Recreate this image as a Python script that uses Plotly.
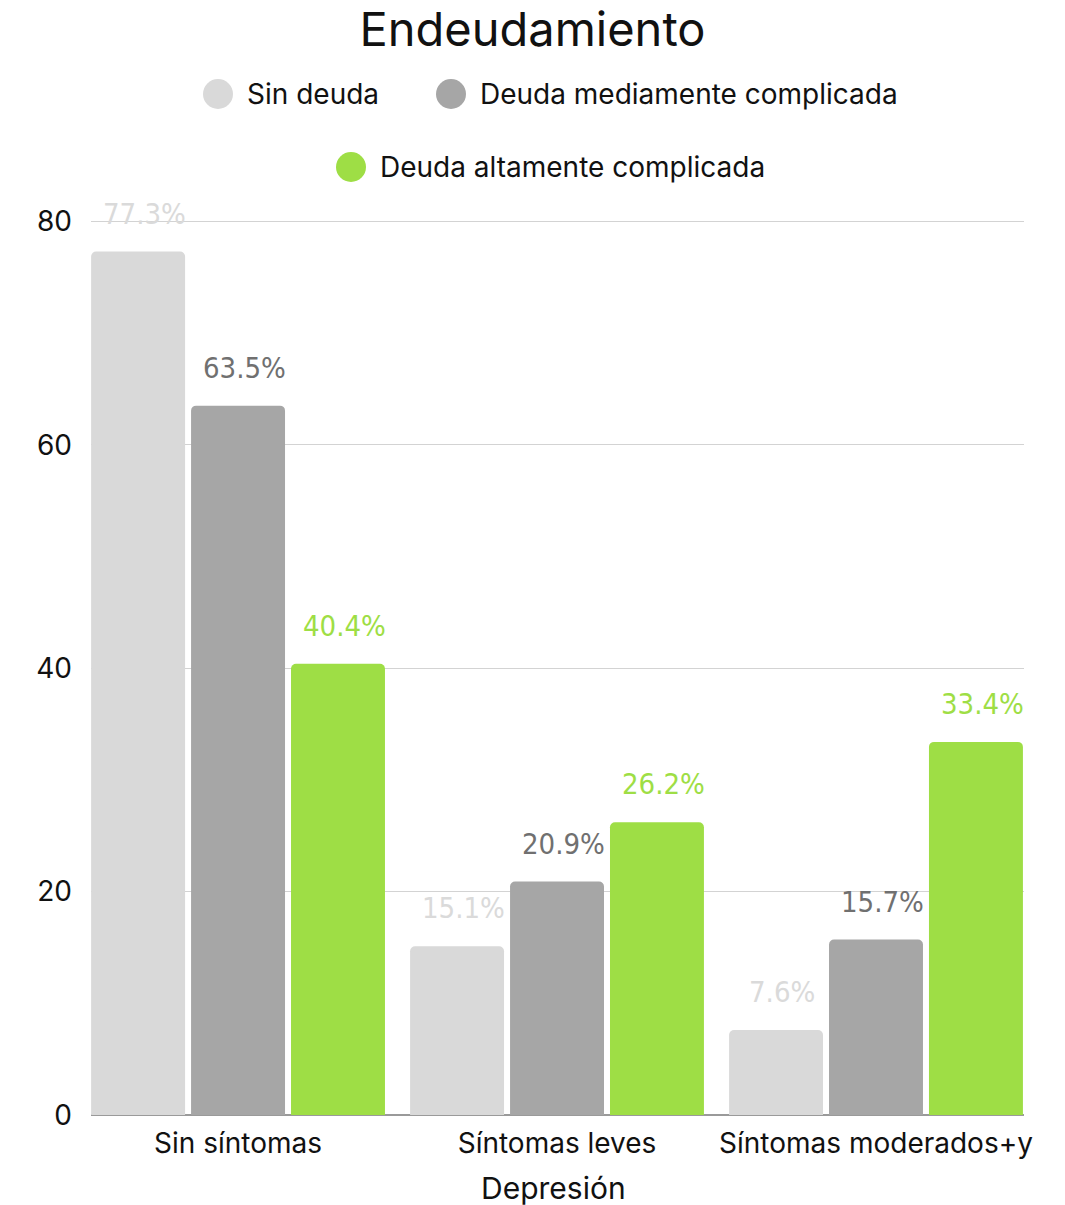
import plotly.graph_objects as go

# --- data -------------------------------------------------------------
categories = ["Sin síntomas", "Síntomas leves", "Síntomas moderados+y"]
series_names = ["Sin deuda", "Deuda mediamente complicada", "Deuda altamente complicada"]
sin_deuda = [77.3, 15.1, 7.6]
deuda_media = [63.5, 20.9, 15.7]
deuda_alta = [40.4, 26.2, 33.4]
y_ticks = [0, 20, 40, 60, 80]
x_title = "Depresión"

series_values = [sin_deuda, deuda_media, deuda_alta]
bar_colors = ["#d9d9d9", "#a6a6a6", "#9ede45"]
label_colors = ["#dadada", "#707070", "#9ede45"]
LABEL_FONT = "DejaVu Sans Condensed, Liberation Sans Narrow, Roboto, sans-serif"

# --- geometry (pixels) ------------------------------------------------
W, H = 1065, 1205
M_L, M_R, M_T, M_B = 91, 41, 220, 90
PW, PH = W - M_L - M_R, H - M_T - M_B
BAR_SLOT = 100  # horizontal distance between neighbouring bars of a group


def px_x(px):
    return (px - M_L) / PW


def px_y(py):
    return (H - M_B - py) / PH


fig = go.Figure()
for name, vals, col in zip(series_names, series_values, bar_colors):
    fig.add_trace(go.Bar(
        x=categories, y=vals, name=name,
        marker=dict(color=col, line=dict(width=0)),
        showlegend=False, hoverinfo="x+y",
    ))

# value labels floating above each bar
annotations = []
for i, (vals, col) in enumerate(zip(series_values, label_colors)):
    for cat, v in zip(categories, vals):
        annotations.append(dict(
            x=cat, y=v, xref="x", yref="y", text=f"{v:.1f}%",
            showarrow=False, xshift=(i - 1) * BAR_SLOT + 6, yshift=38,
            font=dict(family=LABEL_FONT, size=29, color=col),
            xanchor="center", yanchor="middle",
        ))

# hand-placed legend: coloured dots with labels, in two centred rows
legend_items = [(218, 94), (451, 94), (351, 167)]
shapes = []
for (cx, cy), name, col in zip(legend_items, series_names, bar_colors):
    shapes.append(dict(
        type="circle", xref="paper", yref="paper",
        xsizemode="pixel", ysizemode="pixel",
        xanchor=px_x(cx), yanchor=px_y(cy),
        x0=-15, x1=15, y0=-15, y1=15,
        fillcolor=col, line=dict(width=0),
    ))
    annotations.append(dict(
        x=px_x(cx + 27), y=px_y(cy), xref="paper", yref="paper",
        text=name, showarrow=False, xanchor="left", yanchor="middle",
        font=dict(family="Inter", size=28, color="#111111"),
    ))

# x-axis title set below the category labels
annotations.append(dict(
    x=px_x(553), y=px_y(1188), xref="paper", yref="paper", text=x_title,
    showarrow=False, xanchor="center", yanchor="middle",
    font=dict(family="Inter", size=30, color="#111111"),
))

fig.update_layout(
    width=W, height=H,
    margin=dict(l=M_L, r=M_R, t=M_T, b=M_B, pad=0, autoexpand=False),
    paper_bgcolor="white", plot_bgcolor="white",
    barmode="group", bargap=0.06, bargroupgap=0.06, barcornerradius=5,
    title=dict(
        text="Endeudamiento", x=0.5, xanchor="center",
        y=1 - 30 / H, yanchor="middle", yref="container",
        font=dict(family="Inter", size=47, color="#111111"),
    ),
    font=dict(family="Inter", size=27, color="#111111"),
    xaxis=dict(
        range=[-0.461, 2.464], showgrid=False, showline=False,
        ticks="", ticklabelstandoff=9, automargin=False,
        tickfont=dict(family="Inter", size=28, color="#111111"),
    ),
    yaxis=dict(
        range=[0, 80.12], tickvals=y_ticks, ticktext=[str(t) for t in y_ticks],
        showgrid=True, gridcolor="#d3d3d3", gridwidth=1,
        zeroline=True, zerolinecolor="#9a9a9a", zerolinewidth=1.5,
        showline=False, ticks="", ticklabelstandoff=18, automargin=False,
        tickfont=dict(family="Inter", size=28, color="#111111"),
    ),
    shapes=shapes,
    annotations=annotations,
)

fig.write_html("out.html")
